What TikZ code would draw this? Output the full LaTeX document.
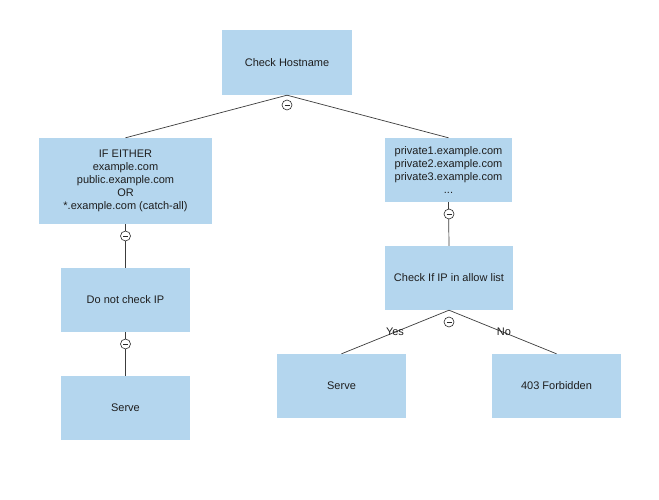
\documentclass[tikz,border=0pt]{standalone}
\usepackage{fontspec}
\setmainfont{Liberation Sans}
\definecolor{boxfill}{RGB}{180,214,238}
\definecolor{txt}{RGB}{30,30,30}
\definecolor{lnc}{RGB}{60,60,60}
\definecolor{togc}{RGB}{40,40,40}
\begin{document}
\begin{tikzpicture}[x=1pt,y=-1pt,
  box/.style={draw=none,fill=boxfill,inner sep=0pt,align=center,font=\fontsize{11}{13}\selectfont,text=txt},
  ln/.style={draw=lnc,line width=0.7pt},
  tog/.style={circle,draw=togc,fill=white,minimum size=10pt,inner sep=0pt,line width=0.6pt},
  lab/.style={font=\fontsize{11}{13}\selectfont,text=txt}]
\useasboundingbox[fill=white] (0,0) rectangle (659,500);
\node[box,minimum width=130pt,minimum height=65pt] (host) at (287,62.5) {Check Hostname};
\node[box,minimum width=173pt,minimum height=86pt] (either) at (125.5,181) {IF EITHER\\example.com\\public.example.com\\OR\\*.example.com (catch-all)};
\node[box,minimum width=127pt,minimum height=64pt] (priv) at (448.5,170) {private1.example.com\\private2.example.com\\private3.example.com\\...};
\node[box,minimum width=129pt,minimum height=64pt] (nocheck) at (125.5,300) {Do not check IP};
\node[box,minimum width=129pt,minimum height=64pt] (serveL) at (125.5,408) {Serve};
\node[box,minimum width=128pt,minimum height=64pt] (chk) at (449,278) {Check If IP in allow list};
\node[box,minimum width=129pt,minimum height=64pt] (serveR) at (341.5,386) {Serve};
\node[box,minimum width=129pt,minimum height=64pt] (forb) at (556.5,386) {403 Forbidden};
\draw[ln] (host.south) -- (either.north);
\draw[ln] (host.south) -- (priv.north);
\draw[ln] (either.south) -- (nocheck.north);
\draw[ln] (nocheck.south) -- (serveL.north);
\draw[ln] (priv.south) -- (chk.north);
\draw[ln] (chk.south) -- (serveR.north);
\draw[ln] (chk.south) -- (forb.north);
\foreach \n/\p in {t1/{(287,105)},t2/{(125.5,236)},t3/{(125.5,344)},t4/{(449,214)},t5/{(449,322)}}{
  \node[tog] (\n) at \p {};
  \draw[line width=0.6pt,togc] ([xshift=-2.5pt]\n.center) -- ([xshift=2.5pt]\n.center);
}
\node[lab] (yes) at (395,332) {Yes};
\node[lab] (no) at (504,332) {No};
\end{tikzpicture}
\end{document}
